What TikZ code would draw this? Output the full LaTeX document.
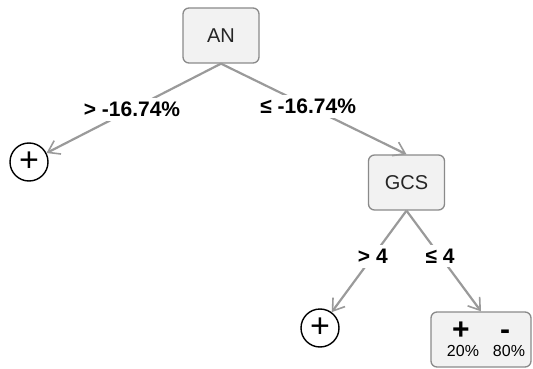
\documentclass[tikz,border=0pt]{standalone}
\usepackage{fontspec}
\setmainfont{Liberation Sans}
\usetikzlibrary{arrows.meta}
\definecolor{boxfill}{HTML}{F2F2F2}
\definecolor{boxline}{HTML}{8A8A8A}
\definecolor{edgecol}{HTML}{9A9A9A}
\tikzset{
  splitbox/.style={draw=boxline, line width=1.3pt, fill=boxfill, rounded corners=6pt,
    minimum width=76pt, minimum height=55pt, font=\fontsize{20}{24}\selectfont, text=black!85},
  leafcirc/.style={draw=black, line width=1.4pt, circle, minimum size=38pt, inner sep=0pt,
    font=\fontsize{34}{34}\selectfont},
  edge/.style={draw=edgecol, line width=2.2pt, -{Straight Barb[length=11pt,width=15pt,line width=1.6pt]}},
  lab/.style={fill=white, inner sep=4pt, font=\fontsize{21}{24}\selectfont\bfseries, text=black},
  sign/.style={font=\fontsize{30}{30}\selectfont\bfseries, inner sep=0pt, anchor=base},
  pct/.style={font=\fontsize{16}{18}\selectfont, inner sep=0pt}
}
\begin{document}
\begin{tikzpicture}[x=1pt,y=-1pt]
\useasboundingbox (0,0) rectangle (533,369);
\node[splitbox] (an) at (221,35.5) {AN};
\node[splitbox] (gcs) at (406.5,182.5) {GCS};
\node[leafcirc] (p1) at (29,162) {+};
\node[leafcirc] (p2) at (320,328) {+};
\node[draw=boxline, line width=1.3pt, fill=boxfill, rounded corners=6pt,
      minimum width=100pt, minimum height=55pt] (leaf) at (481,339.5) {};
\node[sign] (lp) at (461,339.5) {+};
\node[sign] (lm) at (505,339.5) {-};
\node[pct] (pp) at (463,350.5) {20\%};
\node[pct] (pm) at (509,350.5) {80\%};
\draw[edge] (an.south) -- node[lab, pos=0.51] {> -16.74\%} (p1);
\draw[edge] (an.south) -- node[lab, pos=0.47] {≤ -16.74\%} (gcs.north);
\draw[edge] (gcs.south) -- node[lab, pos=0.45] {> 4} (p2);
\draw[edge] (gcs.south) -- node[lab, pos=0.45] {≤ 4} (leaf.north);
\end{tikzpicture}
\end{document}
